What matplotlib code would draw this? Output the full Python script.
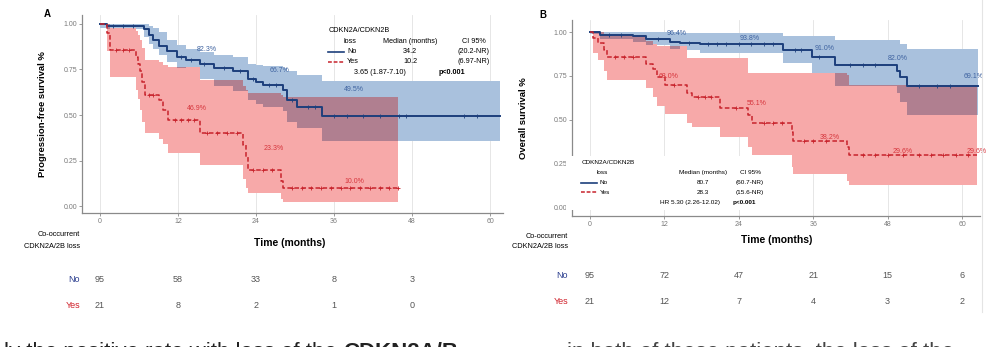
import numpy as np
import matplotlib
matplotlib.use("Agg")
import matplotlib.pyplot as plt
from matplotlib.transforms import blended_transform_factory
from matplotlib.lines import Line2D
from matplotlib.patches import Rectangle

plt.rcParams['font.family'] = ['Liberation Sans', 'DejaVu Sans']

# ---------------- DATA ----------------
# Panel A: progression-free survival
a_no_t = [0, 1.0, 6.7, 7.5, 8.2, 9.0, 10.3, 11.8, 13.3, 15.4, 17.5, 20.5, 22.8, 24.0, 25.1, 28.2, 28.7, 30.3, 34.1, 61.5]
a_no_s = [1.0, 0.99, 0.97, 0.94, 0.91, 0.88, 0.85, 0.82, 0.80, 0.78, 0.76, 0.74, 0.70, 0.68, 0.665, 0.64, 0.58, 0.545, 0.495, 0.495]
a_no_hi = [1.0, 1.0, 1.0, 0.99, 0.975, 0.955, 0.91, 0.885, 0.86, 0.845, 0.83, 0.82, 0.78, 0.775, 0.77, 0.76, 0.74, 0.72, 0.685, 0.685]
a_no_lo = [0.98, 0.97, 0.93, 0.89, 0.86, 0.83, 0.79, 0.76, 0.73, 0.70, 0.66, 0.63, 0.58, 0.56, 0.545, 0.52, 0.46, 0.43, 0.36, 0.36]
a_no_cens = [2, 3.5, 5, 12.5, 14, 16, 19, 21.5, 23.5, 26, 27, 29.5, 32, 33, 36, 38, 40.5, 43, 46, 47, 56, 58]

a_yes_t = [0, 1.0, 1.5, 5.5, 5.8, 6.1, 6.5, 6.9, 9.0, 9.7, 10.5, 15.4, 22.0, 22.4, 22.8, 27.9, 28.2, 45.9]
a_yes_s = [1.0, 0.95, 0.857, 0.82, 0.78, 0.74, 0.68, 0.61, 0.58, 0.53, 0.47, 0.40, 0.335, 0.27, 0.198, 0.14, 0.097, 0.097]
a_yes_hi = [1.0, 1.0, 0.98, 0.96, 0.94, 0.91, 0.87, 0.80, 0.79, 0.775, 0.765, 0.69, 0.66, 0.64, 0.62, 0.61, 0.60, 0.60]
a_yes_lo = [1.0, 0.85, 0.71, 0.64, 0.59, 0.53, 0.46, 0.40, 0.37, 0.34, 0.29, 0.225, 0.15, 0.10, 0.07, 0.04, 0.02, 0.02]
a_yes_cens = [2.5, 3.5, 4.5, 7.5, 8.2, 11.5, 12.5, 13.5, 14.5, 16.5, 18, 19.5, 21, 23.5, 25, 26.5,
              29.5, 31, 32.5, 34, 35.5, 37, 38.5, 40, 41.5, 43, 44.5, 45.9]

# Panel B: overall survival
b_no_t = [0, 1.6, 7.0, 9.1, 12.9, 14.5, 17.7, 31.2, 35.8, 39.5, 49.5, 50.0, 51.1, 62.6]
b_no_s = [1.0, 0.985, 0.975, 0.96, 0.946, 0.937, 0.93, 0.90, 0.857, 0.81, 0.775, 0.746, 0.69, 0.69]
b_no_hi = [1.0, 1.0, 1.0, 1.0, 0.998, 0.995, 0.993, 0.975, 0.975, 0.956, 0.956, 0.93, 0.905, 0.905]
b_no_lo = [0.99, 0.96, 0.945, 0.927, 0.905, 0.895, 0.88, 0.822, 0.765, 0.69, 0.65, 0.60, 0.526, 0.526]
b_no_cens = [3, 5, 11, 16, 19, 20.5, 22, 24, 26, 28, 29.5, 33, 34, 37, 42, 44, 46, 53, 56, 58]

b_yes_t = [0, 0.5, 1.3, 2.2, 2.7, 9.1, 10.2, 10.8, 12.1, 15.6, 16.4, 21.0, 25.5, 26.1, 32.5, 32.8, 41.4, 41.7, 62.4]
b_yes_s = [1.0, 0.965, 0.937, 0.90, 0.86, 0.82, 0.79, 0.746, 0.70, 0.65, 0.63, 0.564, 0.526, 0.478, 0.43, 0.38, 0.344, 0.296, 0.296]
b_yes_hi = [1.0, 1.0, 1.0, 0.99, 0.985, 0.95, 0.93, 0.918, 0.918, 0.85, 0.85, 0.85, 0.765, 0.765, 0.765, 0.765, 0.755, 0.70, 0.70]
b_yes_lo = [1.0, 0.88, 0.84, 0.78, 0.727, 0.68, 0.63, 0.58, 0.53, 0.48, 0.46, 0.40, 0.344, 0.30, 0.23, 0.19, 0.15, 0.124, 0.124]
b_yes_cens = [4, 5.5, 7, 13.5, 17.5, 18.5, 19.5, 23.5, 28, 29.5, 31, 34.5, 36, 38, 44, 46, 48, 50.5, 53, 55, 57, 59, 61]

# percentage annotations (text, month, survival)
a_no_pct = ["82.3%", "66.7%", "49.5%"]
a_no_pct_x = [16.4, 27.7, 39.0]
a_no_pct_y = [0.857, 0.744, 0.64]
a_yes_pct = ["46.9%", "23.3%", "10.0%"]
a_yes_pct_x = [14.9, 26.7, 39.2]
a_yes_pct_y = [0.537, 0.317, 0.137]
b_no_pct = ["96.4%", "93.8%", "91.0%", "82.0%", "69.1%"]
b_no_pct_x = [14.0, 25.8, 37.9, 49.7, 61.8]
b_no_pct_y = [0.994, 0.966, 0.908, 0.851, 0.746]
b_yes_pct = ["68.0%", "55.1%", "38.2%", "29.6%", "29.6%"]
b_yes_pct_x = [12.6, 26.9, 38.7, 50.5, 62.4]
b_yes_pct_y = [0.746, 0.593, 0.40, 0.315, 0.315]

# risk tables
risk_times_a = [0, 12, 24, 36, 48]
risk_no_a = [95, 58, 33, 8, 3]
risk_yes_a = [21, 8, 2, 1, 0]
risk_times_b = [0, 12, 24, 36, 48, 60]
risk_no_b = [95, 72, 47, 21, 15, 6]
risk_yes_b = [21, 12, 7, 4, 3, 2]

x_ticks = [0, 12, 24, 36, 48, 60]
y_ticks = [0.0, 0.25, 0.50, 0.75, 1.00]
y_ticklabels = ["0.00", "0.25", "0.50", "0.75", "1.00"]

# legend texts
leg_a_rows = [("No", "34.2", "(20.2-NR)"), ("Yes", "10.2", "(6.97-NR)")]
leg_a_hr = "3.65 (1.87-7.10)"
leg_b_rows = [("No", "80.7", "(60.7-NR)"), ("Yes", "28.3", "(15.6-NR)")]
leg_b_hr = "HR 5.30 (2.26-12.02)"
p_text = "p<0.001"

caption_left = "ly the positive rate with loss of the"
caption_bold = "CDKN2A/B"
caption_right = "in both of these patients, the loss of the"

# ---------------- STYLE ----------------
C_BLUE = '#1d3f7c'
C_RED = '#c8232c'
C_BLUE_BAND = '#a9c1dd'
C_RED_BAND = '#f7a9a9'
C_OVER = '#b07f90'
C_PCT_BLUE = '#3f63a0'
C_PCT_RED = '#d6363d'
C_GRAY = '#7a7a7a'

W, H = 1000, 347
fig = plt.figure(figsize=(W / 100, H / 100), dpi=100)


def fx(px):
    return px / W


def fy(py):
    return 1 - py / H


def step_val(tq, t, v):
    t = np.asarray(t); v = np.asarray(v)
    idx = np.searchsorted(t, tq, side='right') - 1
    idx = np.clip(idx, 0, len(v) - 1)
    return v[idx]


def draw_km(ax, no, yes):
    (t1, s1, lo1, hi1, c1), (t2, s2, lo2, hi2, c2) = no, yes
    ax.fill_between(t1, lo1, hi1, step='post', color=C_BLUE_BAND, lw=0, zorder=1)
    ax.fill_between(t2, lo2, hi2, step='post', color=C_RED_BAND, lw=0, zorder=1.1)
    tend = min(t1[-1], t2[-1])
    grid = np.union1d(t1, t2)
    grid = grid[grid <= tend]
    lo = np.maximum(step_val(grid, t1, lo1), step_val(grid, t2, lo2))
    hi = np.minimum(step_val(grid, t1, hi1), step_val(grid, t2, hi2))
    ax.fill_between(grid, lo, np.maximum(hi, lo), where=hi > lo, step='post',
                    color=C_OVER, lw=0, zorder=1.2)
    ax.step(t1, s1, where='post', color=C_BLUE, lw=1.4, zorder=3)
    ax.step(t2, s2, where='post', color=C_RED, lw=1.1, ls=(0, (3, 1.6)), zorder=3.1)
    ax.plot(c1, step_val(np.asarray(c1), t1, s1), '+', color=C_BLUE, ms=3, mew=0.6, zorder=4)
    ax.plot(c2, step_val(np.asarray(c2), t2, s2), '+', color=C_RED, ms=3, mew=0.6, zorder=4)


def style_ax(ax, xlim, ylim):
    ax.set_xlim(*xlim)
    ax.set_ylim(*ylim)
    for s in ['top', 'right']:
        ax.spines[s].set_visible(False)
    for s in ['left', 'bottom']:
        ax.spines[s].set_color('#8a8a8a')
        ax.spines[s].set_linewidth(0.9)
    ax.set_xticks(x_ticks)
    ax.set_xticklabels([str(v) for v in x_ticks])
    ax.set_yticks(y_ticks)
    ax.set_yticklabels(y_ticklabels)
    ax.tick_params(axis='both', labelsize=5, colors='#8a8a8a', labelcolor=C_GRAY,
                   length=2, width=0.6, pad=1.5)
    ax.grid(axis='x', color='#e2e2e2', lw=0.6, zorder=0)
    ax.set_axisbelow(True)


# ---------------- PANEL A ----------------
axA = fig.add_axes([fx(82), fy(213), fx(503) - fx(82), fy(15) - fy(213)])
draw_km(axA, (a_no_t, a_no_s, a_no_lo, a_no_hi, a_no_cens),
        (a_yes_t, a_yes_s, a_yes_lo, a_yes_hi, a_yes_cens))
style_ax(axA, (-2.77, 62.0), (-0.038, 1.049))
axA.set_ylabel("Progression-free survival %", fontsize=6.8, fontweight='bold', labelpad=12)
for txt, x, y in zip(a_no_pct, a_no_pct_x, a_no_pct_y):
    axA.text(x, y, txt, fontsize=5, color=C_PCT_BLUE, ha='center', va='center', zorder=5)
for txt, x, y in zip(a_yes_pct, a_yes_pct_x, a_yes_pct_y):
    axA.text(x, y, txt, fontsize=5, color=C_PCT_RED, ha='center', va='center', zorder=5)

# ---------------- PANEL B ----------------
axB = fig.add_axes([fx(572), fy(216), fx(980) - fx(572), fy(20) - fy(216)])
draw_km(axB, (b_no_t, b_no_s, b_no_lo, b_no_hi, b_no_cens),
        (b_yes_t, b_yes_s, b_yes_lo, b_yes_hi, b_yes_cens))
style_ax(axB, (-2.9, 62.9), (-0.051, 1.069))
axB.set_ylabel("Overall survival %", fontsize=6.8, fontweight='bold', labelpad=18)
for txt, x, y in zip(b_no_pct, b_no_pct_x, b_no_pct_y):
    axB.text(x, y, txt, fontsize=5, color=C_PCT_BLUE, ha='center', va='center', zorder=5)
for txt, x, y in zip(b_yes_pct, b_yes_pct_x, b_yes_pct_y):
    axB.text(x, y, txt, fontsize=5, color=C_PCT_RED, ha='center', va='center', zorder=5)

# panel letters
fig.text(fx(47), fy(14), "A", fontsize=7, fontweight='bold', ha='center', va='center')
fig.text(fx(543), fy(15), "B", fontsize=7, fontweight='bold', ha='center', va='center')


# ---------------- LEGENDS ----------------
def legend_block(x0, y0, rows, hr, med_x, ci_x, hr_x, p_x, fs, dy, box=None):
    if box is not None:
        fig.patches.append(Rectangle((fx(box[0]), fy(box[3])), fx(box[2]) - fx(box[0]),
                                     fy(box[1]) - fy(box[3]), transform=fig.transFigure,
                                     facecolor='white', edgecolor='none', zorder=10))
    fig.text(fx(x0), fy(y0), "CDKN2A/CDKN2B", fontsize=fs, ha='left', va='center', zorder=11)
    fig.text(fx(x0 + 15), fy(y0 + dy), "loss", fontsize=fs, ha='left', va='center', zorder=11)
    fig.text(fx(med_x), fy(y0 + dy), "Median (months)", fontsize=fs, ha='center', va='center', zorder=11)
    fig.text(fx(ci_x), fy(y0 + dy), "CI 95%", fontsize=fs, ha='center', va='center', zorder=11)
    styles = [(C_BLUE, '-', 1.2), (C_RED, (0, (2.5, 1.2)), 1.1)]
    for i, (lab, med, ci) in enumerate(rows):
        yy = y0 + dy * (2 + i)
        c, ls, lw = styles[i]
        fig.add_artist(Line2D([fx(x0 - 1), fx(x0 + 15)], [fy(yy), fy(yy)], color=c, ls=ls,
                              lw=lw, transform=fig.transFigure, zorder=11))
        fig.text(fx(x0 + 18), fy(yy), lab, fontsize=fs, ha='left', va='center', zorder=11)
        fig.text(fx(med_x), fy(yy), med, fontsize=fs, ha='center', va='center', zorder=11)
        fig.text(fx(ci_x), fy(yy), ci, fontsize=fs, ha='center', va='center', zorder=11)
    yy = y0 + dy * 4
    fig.text(fx(hr_x), fy(yy), hr, fontsize=fs, ha='center', va='center', zorder=11)
    fig.text(fx(p_x), fy(yy), p_text, fontsize=fs, fontweight='bold', ha='center', va='center', zorder=11)


legend_block(329, 31, leg_a_rows, leg_a_hr, 410, 474, 380, 452, 5.2, 10.3)
legend_block(582, 163, leg_b_rows, leg_b_hr, 703, 750, 690, 744, 4.6, 9.8,
             box=(566, 156, 772, 210))


# ---------------- X LABELS & RISK TABLES ----------------
def risk_table(ax, times, no, yes, label_x, y_no, y_yes, xlab_x, xlab_y, hdr_y):
    tr = blended_transform_factory(ax.transData, fig.transFigure)
    fig.text(fx(xlab_x), fy(xlab_y), "Time (months)", fontsize=7.5, fontweight='bold',
             ha='center', va='center')
    fig.text(fx(label_x), fy(hdr_y), "Co-occurrent", fontsize=5.3, ha='right', va='center')
    fig.text(fx(label_x), fy(hdr_y + 11), "CDKN2A/2B loss", fontsize=5.3, ha='right', va='center')
    fig.text(fx(label_x), fy(y_no), "No", fontsize=6.5, color='#2c3f8f', ha='right', va='center')
    fig.text(fx(label_x), fy(y_yes), "Yes", fontsize=6.5, color='#d0202a', ha='right', va='center')
    for t, n in zip(times, no):
        ax.text(t, fy(y_no), str(n), transform=tr, fontsize=6.5, color='#555555',
                ha='center', va='center')
    for t, n in zip(times, yes):
        ax.text(t, fy(y_yes), str(n), transform=tr, fontsize=6.5, color='#555555',
                ha='center', va='center')


risk_table(axA, risk_times_a, risk_no_a, risk_yes_a, 80, 280, 305, 290, 243, 235)
risk_table(axB, risk_times_b, risk_no_b, risk_yes_b, 568, 276, 302, 777, 240, 236)

# page border on the right
fig.add_artist(Line2D([fx(982), fx(982)], [fy(0), fy(312)], color='#e4e4e4', lw=0.8,
                      transform=fig.transFigure))

# cut-off caption line at the bottom (only the top of the glyphs is on the page)
fig.text(fx(4), fy(358), caption_left, fontsize=16, ha='left', va='baseline', color='#222222')
fig.text(fx(343), fy(358), caption_bold, fontsize=16, fontweight='bold',
         ha='left', va='baseline', color='#222222')
fig.text(fx(567), fy(358), caption_right, fontsize=16, ha='left', va='baseline', color='#444444')

fig.savefig("out.png", dpi=100)
